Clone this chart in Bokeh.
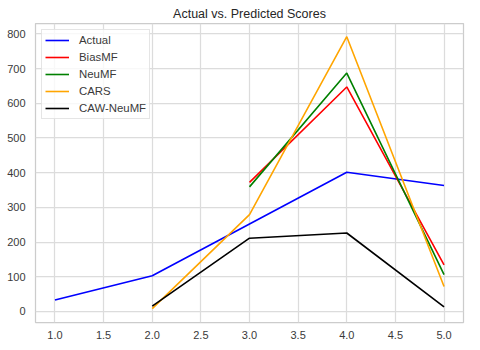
from bokeh.plotting import figure
from bokeh.embed import file_html
from bokeh.resources import INLINE
from bokeh.models import FixedTicker, NumeralTickFormatter, Legend, LegendItem, Range1d, Title

# Data
x_actual = [1.0, 2.0, 3.0, 4.0, 5.0]
actual = [33, 103, 252, 401, 363]
x_pred = [3.0, 4.0, 5.0]
biasmf = [372, 647, 134]
neumf = [359, 687, 106]
x_cars = [2.0, 3.0, 4.0, 5.0]
cars = [8, 279, 792, 72]
caw_neumf = [15, 211, 226, 13]
x_ticks = [1.0, 1.5, 2.0, 2.5, 3.0, 3.5, 4.0, 4.5, 5.0]
y_ticks = [0, 100, 200, 300, 400, 500, 600, 700, 800]
series_names = ["Actual", "BiasMF", "NeuMF", "CARS", "CAW-NeuMF"]
colors = ["#0000ff", "#ff0000", "#008000", "#ffa500", "#000000"]

FONT = "Liberation Sans"
TXT = "#3a3a3a"

p = figure(width=480, height=350, output_backend="svg", toolbar_location=None,
           x_range=Range1d(0.8, 5.2), y_range=Range1d(-32, 830),
           min_border_left=35, min_border_right=17, min_border_top=23, min_border_bottom=28,
           background_fill_color="white", border_fill_color="white")

p.title = Title(text="Actual vs. Predicted Scores", align="center",
                text_font=FONT, text_font_size="12.5px", text_font_style="normal",
                text_color="#262626", standoff=6, offset=0)

p.outline_line_color = "#cccccc"
p.outline_line_width = 1.25

for ax in (p.xaxis[0], p.yaxis[0]):
    ax.axis_line_color = None
    ax.major_tick_line_color = None
    ax.minor_tick_line_color = None
    ax.major_tick_out = 0
    ax.major_tick_in = 0
    ax.major_label_text_font = FONT
    ax.major_label_text_font_size = "11px"
    ax.major_label_text_color = TXT

p.xaxis.ticker = FixedTicker(ticks=x_ticks)
p.xaxis.formatter = NumeralTickFormatter(format="0.0")
p.xaxis.major_label_standoff = 8
p.yaxis.ticker = FixedTicker(ticks=y_ticks)
p.yaxis.major_label_standoff = 10

p.xgrid.ticker = FixedTicker(ticks=x_ticks)
p.ygrid.ticker = FixedTicker(ticks=y_ticks)
for g in (p.xgrid[0], p.ygrid[0]):
    g.grid_line_color = "#dcdcdc"
    g.grid_line_width = 1.25

lw = 1.6
r1 = p.line(x_actual, actual, line_color=colors[0], line_width=lw)
r2 = p.line(x_pred, biasmf, line_color=colors[1], line_width=lw)
r3 = p.line(x_pred, neumf, line_color=colors[2], line_width=lw)
r4 = p.line(x_cars, cars, line_color=colors[3], line_width=lw)
r5 = p.line(x_cars, caw_neumf, line_color=colors[4], line_width=lw)

legend = Legend(items=[LegendItem(label=n, renderers=[r]) for n, r in
                       zip(series_names, [r1, r2, r3, r4, r5])],
                location="top_left", margin=6, padding=3, spacing=3,
                label_height=14, glyph_height=14, glyph_width=24, label_standoff=10,
                label_text_font=FONT, label_text_font_size="11.4px", label_text_color=TXT,
                border_line_color="#cccccc", border_line_width=1,
                background_fill_color="white", background_fill_alpha=0.8)
p.add_layout(legend)

open("out.html", "w").write(file_html(p, INLINE))
